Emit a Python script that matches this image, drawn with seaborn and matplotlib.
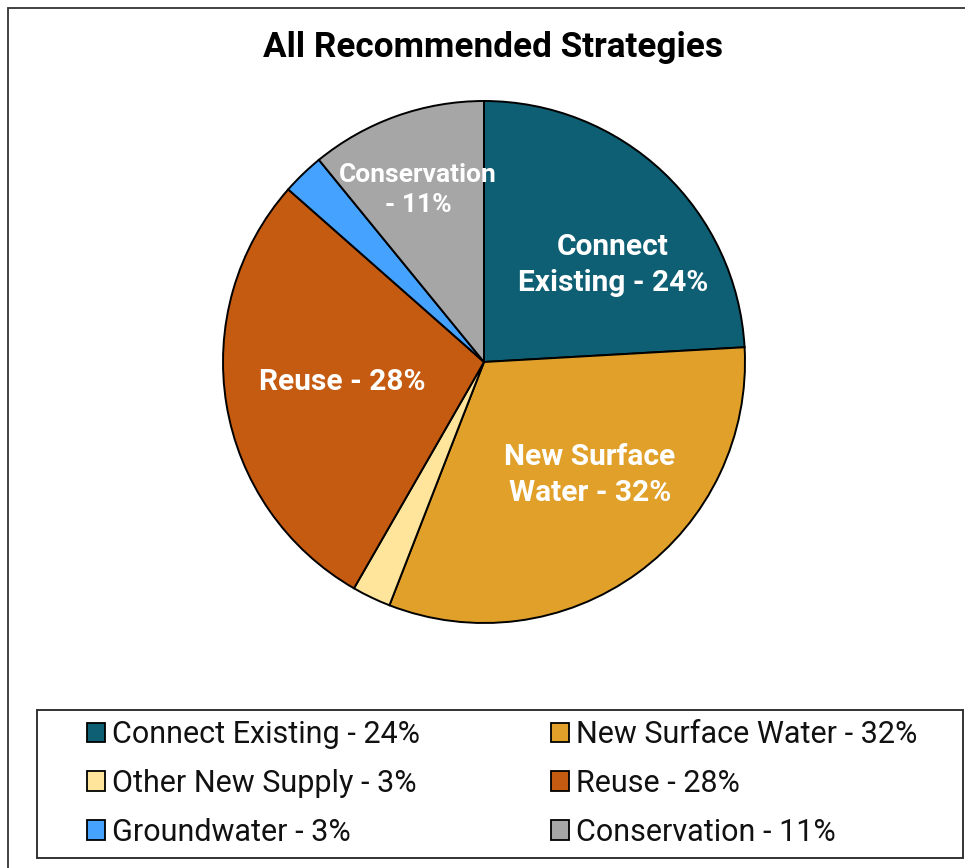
import matplotlib
matplotlib.use("Agg")
import matplotlib.pyplot as plt
from matplotlib.patches import Patch, Rectangle
import seaborn as sns

sns.set_theme(style="white")
plt.rcParams['font.family'] = ['Roboto', 'DejaVu Sans']

categories = ["Connect Existing", "New Surface Water", "Other New Supply",
              "Reuse", "Groundwater", "Conservation"]
# slice shares
values = [24.1, 31.8, 2.4, 28.2, 2.6, 10.9]
# percentages as printed in the labels
label_pcts = [24, 32, 3, 28, 3, 11]
colors = ["#0E5F73", "#E0A02A", "#FFE49C", "#C55A11", "#45A2FF", "#A6A6A6"]
legend_labels = [f"{c} - {p}%" for c, p in zip(categories, label_pcts)]

fig = plt.figure(figsize=(9.65, 8.68), dpi=100)
fig.patch.set_facecolor("white")

# outer frame
fig.add_artist(Rectangle((8/965, -0.02), 1.05, 1 - 8/868 + 0.02,
                         transform=fig.transFigure, fill=False,
                         edgecolor="#333333", linewidth=1.3))
# legend frame
fig.add_artist(Rectangle((37/965, 10/868), 926/965, 148/868,
                         transform=fig.transFigure, fill=False,
                         edgecolor="#222222", linewidth=1.3))

ax = fig.add_axes([223/965, 245/868, 522/965, 522/868])
wedges, _ = ax.pie(values, colors=colors, startangle=90, counterclock=False,
                   radius=1.0,
                   wedgeprops=dict(edgecolor="black", linewidth=1.4))
ax.set_xlim(-1, 1)
ax.set_ylim(-1, 1)
ax.set_aspect("equal")
ax.axis("off")

label_text = [
    ("Connect\nExisting - 24%", (0.494, 0.372), 21.5),
    ("New Surface\nWater - 32%", (0.406, -0.433), 21.5),
    ("Reuse - 28%", (-0.544, -0.077), 21.5),
    ("Conservation\n- 11%", (-0.253, 0.659), 19),
]
for txt, (x, y), fs in label_text:
    ax.text(x, y, txt, ha="center", va="center", color="white",
            fontsize=fs, fontweight="bold", linespacing=1.36)

fig.text(493/965, 1 - 47/868, "All Recommended Strategies", ha="center",
         va="center", fontsize=25.3, fontweight="bold", color="black")

handles = [Patch(facecolor=c, edgecolor="black", linewidth=1.3) for c in colors]
order = [0, 2, 4, 1, 3, 5]
leg = fig.legend([handles[i] for i in order], [legend_labels[i] for i in order],
                 ncol=2, loc="upper left",
                 bbox_to_anchor=(87/965, 1 - 720/868),
                 frameon=False, fontsize=22, handlelength=0.6,
                 handleheight=0.6, handletextpad=0.22, labelspacing=0.65,
                 borderaxespad=0, borderpad=0, columnspacing=4.28)
for t in leg.get_texts():
    t.set_color("#111111")

fig.savefig("out.png", dpi=100, facecolor="white")
